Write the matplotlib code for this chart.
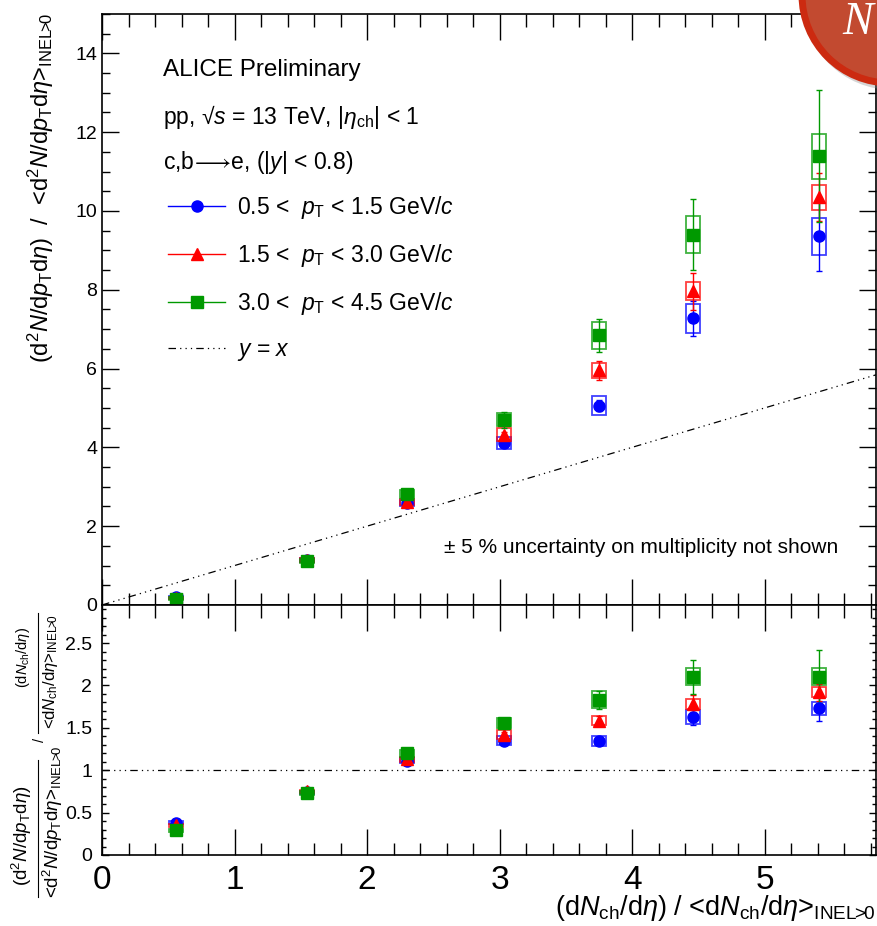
import matplotlib.pyplot as plt
import matplotlib.ticker as mt
from matplotlib.patches import Rectangle, Ellipse
from matplotlib.lines import Line2D

plt.rcParams['font.family'] = ['Liberation Sans', 'DejaVu Sans']
plt.rcParams['mathtext.fontset'] = 'custom'
plt.rcParams['mathtext.rm'] = 'Liberation Sans'
plt.rcParams['mathtext.it'] = 'Liberation Sans:italic'
plt.rcParams['mathtext.bf'] = 'Liberation Sans:bold'

# multiplicity bins
mult = [0.56, 1.55, 2.30, 3.03, 3.75, 4.46, 5.41]
xmax = 5.84

# self-normalised yields (top panel)
blue_y = [0.19, 1.14, 2.58, 4.11, 5.06, 7.27, 9.36]
blue_stat = [0.01, 0.03, 0.04, 0.08, 0.15, 0.45, 0.88]
blue_sys = [0.03, 0.05, 0.08, 0.16, 0.25, 0.37, 0.47]
red_y = [0.17, 1.13, 2.62, 4.32, 5.95, 7.96, 10.35]
red_stat = [0.01, 0.03, 0.04, 0.08, 0.24, 0.47, 0.60]
red_sys = [0.03, 0.05, 0.08, 0.16, 0.19, 0.23, 0.32]
green_y = [0.16, 1.12, 2.81, 4.70, 6.84, 9.40, 11.39]
green_stat = [0.01, 0.03, 0.05, 0.20, 0.41, 0.89, 1.68]
green_sys = [0.03, 0.05, 0.10, 0.16, 0.34, 0.47, 0.57]

# double ratio (bottom panel)
blue_r = [0.38, 0.74, 1.11, 1.35, 1.345, 1.625, 1.73]
blue_rstat = [0.01, 0.01, 0.02, 0.03, 0.04, 0.09, 0.15]
blue_rsys = [0.02, 0.02, 0.03, 0.05, 0.06, 0.08, 0.08]
red_r = [0.35, 0.75, 1.13, 1.42, 1.585, 1.78, 1.92]
red_rstat = [0.01, 0.01, 0.02, 0.03, 0.05, 0.11, 0.10]
red_rsys = [0.02, 0.02, 0.03, 0.05, 0.05, 0.06, 0.06]
green_r = [0.29, 0.73, 1.20, 1.555, 1.83, 2.105, 2.105]
green_rstat = [0.01, 0.01, 0.02, 0.04, 0.11, 0.20, 0.31]
green_rsys = [0.02, 0.02, 0.04, 0.06, 0.10, 0.105, 0.105]

labels = [r"0.5 <  $p_{\mathrm{T}}$ < 1.5 GeV/$c$",
          r"1.5 <  $p_{\mathrm{T}}$ < 3.0 GeV/$c$",
          r"3.0 <  $p_{\mathrm{T}}$ < 4.5 GeV/$c$"]
colors = ['#0000ff', '#ff0000', '#009900']
markers = ['o', '^', 's']

dd = (0, (6, 3.3, 1, 3.3, 1, 3.3, 1, 3.3))
bw = 0.053
inel = r"$_{\mathrm{INEL}\!\!>\!\!0}$"

fig = plt.figure(figsize=(8.78, 9.26), dpi=100)
ax1 = fig.add_axes([0.1162, 0.3467, 0.8815, 0.6383])
ax2 = fig.add_axes([0.1162, 0.0767, 0.8815, 0.27])


def draw(ax, y, stat, sys, col, mk):
    for xi, yi, si in zip(mult, y, sys):
        ax.add_patch(Rectangle((xi - bw, yi - si), 2 * bw, 2 * si, fill=False,
                               ec=col, lw=1.3, alpha=0.75, zorder=3))
    ms = 8.5 if mk == '^' else 8
    ax.errorbar(mult, y, yerr=stat, fmt=mk, color=col, ms=ms, mec=col,
                elinewidth=1, capsize=2, capthick=1, zorder=4)


top = [(blue_y, blue_stat, blue_sys), (red_y, red_stat, red_sys), (green_y, green_stat, green_sys)]
bot = [(blue_r, blue_rstat, blue_rsys), (red_r, red_rstat, red_rsys), (green_r, green_rstat, green_rsys)]
for (y, s, e), col, mk in zip(top, colors, markers):
    draw(ax1, y, s, e, col, mk)
for (y, s, e), col, mk in zip(bot, colors, markers):
    draw(ax2, y, s, e, col, mk)

ax1.plot([0, xmax], [0, xmax], color='black', lw=0.9, ls=dd, zorder=2)
ax2.plot([0, xmax], [1, 1], color='black', lw=0.9, ls=dd, zorder=2)

ax1.set_xlim(0, xmax)
ax1.set_ylim(0, 15)
ax2.set_xlim(0, xmax)
ax2.set_ylim(0, 2.95)

for ax in (ax1, ax2):
    for sp in ax.spines.values():
        sp.set_linewidth(1.2)
    ax.xaxis.set_major_locator(mt.MultipleLocator(1))
    ax.xaxis.set_minor_locator(mt.MultipleLocator(0.2))
    ax.tick_params(which='both', direction='in', top=True, right=True, width=1)
    ax.tick_params(axis='x', which='major', length=18.5)
    ax.tick_params(axis='x', which='minor', length=9)

ax1.yaxis.set_major_locator(mt.MultipleLocator(2))
ax1.yaxis.set_minor_locator(mt.MultipleLocator(0.5))
ax1.tick_params(axis='y', which='major', length=12, labelsize=14, pad=3.5)
ax1.tick_params(axis='y', which='minor', length=6)
ax1.tick_params(axis='x', labelbottom=False)

ax2.yaxis.set_major_locator(mt.FixedLocator([0, 0.5, 1, 1.5, 2, 2.5]))
ax2.yaxis.set_major_formatter(mt.FixedFormatter(['0', '0.5', '1', '1.5', '2', '2.5']))
ax2.yaxis.set_minor_locator(mt.MultipleLocator(0.1))
ax2.tick_params(axis='y', which='major', length=5, labelsize=14, pad=7)
ax2.tick_params(axis='y', which='minor', length=3)
ax2.tick_params(axis='x', labelsize=24, pad=7)

# header text
ax1.text(0.0788, 0.905, "ALICE Preliminary", transform=ax1.transAxes, fontsize=17.5, va='center')
ax1.text(0.0788, 0.826, r"pp, √$s$ = 13 TeV, |$\eta_{\mathrm{ch}}$| < 1",
         transform=ax1.transAxes, fontsize=16.5, va='center')
ax1.text(0.0788, 0.748, r"c,b$\!\longrightarrow\!$e, (|$y$| < 0.8)", transform=ax1.transAxes,
         fontsize=16.5, va='center')
ax1.text(0.951, 0.0964, "± 5 % uncertainty on multiplicity not shown", transform=ax1.transAxes,
         fontsize=15, ha='right', va='center')

handles = [Line2D([], [], color=c, marker=m, ms=8, lw=1) for c, m in zip(colors, markers)]
handles.append(Line2D([], [], color='black', lw=0.9, ls=dd))
ax1.legend(handles, labels + [r"$y$ = $x$"], loc='upper left', bbox_to_anchor=(0.0853, 0.695),
           frameon=False, borderpad=0, borderaxespad=0, handlelength=2.5, handletextpad=0.5,
           labelspacing=0.92, fontsize=16.5)

# axis titles
fig.text(41 / 878, 1 - 13 / 926,
         r"$(\mathrm{d}^2N/\mathrm{d}p_{\mathrm{T}}\mathrm{d}\eta)$  /  "
         r"<$\mathrm{d}^2N/\mathrm{d}p_{\mathrm{T}}\mathrm{d}\eta$>" + inel,
         rotation=90, ha='center', va='top', fontsize=17)
fig.text(875 / 878, 1 - 908 / 926,
         r"$(\mathrm{d}N_{\mathrm{ch}}/\mathrm{d}\eta)$ / <$\mathrm{d}N_{\mathrm{ch}}/\mathrm{d}\eta$>" + inel,
         ha='right', va='center', fontsize=19.5)


def fx(px):
    return px / 878


def fy(py):
    return 1 - py / 926


fs1 = 13.5
fs2 = 10.5
fig.text(fx(22), fy(836), r"$(\mathrm{d}^2N/\mathrm{d}p_{\mathrm{T}}\mathrm{d}\eta)$",
         rotation=90, ha='center', va='center', fontsize=fs1)
fig.text(fx(53), fy(822), r"<$\mathrm{d}^2N/\mathrm{d}p_{\mathrm{T}}\mathrm{d}\eta$>" + inel,
         rotation=90, ha='center', va='center', fontsize=fs1)
fig.add_artist(Line2D([fx(38), fx(38)], [fy(760), fy(897)], color='black', lw=0.8))
fig.text(fx(40), fy(740), "/", rotation=90, ha='center', va='center', fontsize=fs2)
fig.text(fx(23), fy(657), r"$(\mathrm{d}N_{\mathrm{ch}}/\mathrm{d}\eta)$",
         rotation=90, ha='center', va='center', fontsize=fs2)
fig.text(fx(51), fy(672), r"<$\mathrm{d}N_{\mathrm{ch}}/\mathrm{d}\eta$>" + inel,
         rotation=90, ha='center', va='center', fontsize=fs2 + 1.5)
fig.add_artist(Line2D([fx(38), fx(38)], [fy(613), fy(733)], color='black', lw=0.8))

# badge in the corner
fig.add_artist(Ellipse((fx(893), fy(-1)), 182 / 878, 182 / 926, transform=fig.transFigure,
                       fc='#888888', ec='none', alpha=0.35, zorder=9))
fig.add_artist(Ellipse((fx(890), fy(-5)), 176 / 878, 176 / 926, transform=fig.transFigure,
                       fc='#c24a30', ec='#cc2a10', lw=5, zorder=10))
fig.text(fx(842), fy(2), "N", fontsize=33, color='white', ha='left', va='top',
         family='Liberation Serif', style='italic', zorder=11)

fig.savefig("out.png", dpi=100)
